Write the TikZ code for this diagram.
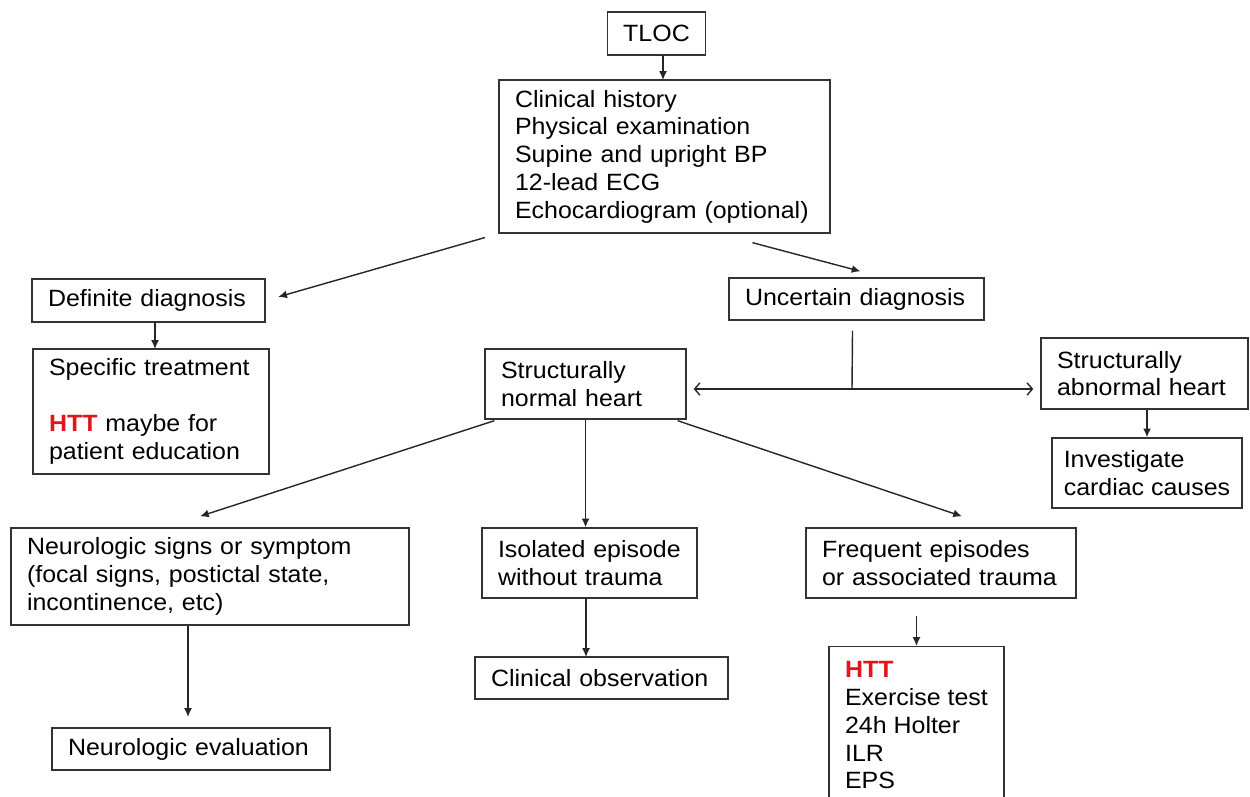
\documentclass[tikz,border=0pt]{standalone}
\usepackage{fontspec}
\setmainfont{Liberation Sans}[FakeStretch=1.06]
\usepackage{tikz}
\usetikzlibrary{calc,positioning,arrows.meta}
\definecolor{httred}{RGB}{230,20,25}
\newcommand{\htt}{\textcolor{httred}{\textbf{HTT}}}

\begin{document}
\begin{tikzpicture}[x=0.02cm,y=-0.02cm]
\tikzstyle{box}=[draw=black!80, line width=0.8pt, rectangle, align=left, inner xsep=0.32cm, font=\fontsize{13.4}{15.8}\selectfont]
\tikzstyle{arr}=[draw=black!85, line width=0.8pt, -{Latex[length=5pt,width=4.5pt]}]
\tikzstyle{dblarr}=[draw=black!85, line width=0.8pt, {Straight Barb[length=3pt,width=7pt]}-{Straight Barb[length=3pt,width=7pt]}]
\clip (0,0) rectangle (1250,796);
% boxes
\node[box, align=center, minimum width=1.94cm, minimum height=0.86cm] (tloc) at (656.5,33.5) {TLOC};
\node[box, text width=5.98cm, minimum height=3.06cm] (clin) at (664.5,156.5) {Clinical history\\Physical examination\\Supine and upright BP\\12-lead ECG\\Echocardiogram (optional)};
\node[box, text width=4.02cm, minimum height=0.86cm] (defdx) at (148.5,300.5) {Definite diagnosis};
\node[box, text width=4.08cm, minimum height=2.5cm] (spec) at (151,411.5) {Specific treatment\\[15.8pt]\htt{} maybe for\\patient education};
\node[box, text width=4.46cm, minimum height=0.84cm] (uncdx) at (856.5,299) {Uncertain diagnosis};
\node[box, text width=3.38cm, minimum height=1.4cm] (normal) at (585.5,384) {Structurally\\normal heart};
\node[box, text width=3.5cm, minimum height=1.42cm] (abnormal) at (1144.5,373.5) {Structurally\\abnormal heart};
\node[box, inner xsep=0.1cm, minimum width=3.8cm, minimum height=1.4cm] (invest) at (1147,473) {Investigate\\cardiac causes};
\node[box, text width=7.32cm, minimum height=1.94cm] (neuro) at (210,576.5) {Neurologic signs or symptom\\(focal signs, postictal state,\\incontinence, etc)};
\node[box, text width=4.92cm, minimum height=0.84cm] (neuroeval) at (191,749) {Neurologic evaluation};
\node[box, text width=3.66cm, minimum height=1.4cm] (iso) at (589.5,563) {Isolated episode\\without trauma};
\node[box, text width=4.42cm, minimum height=0.84cm] (clinobs) at (601.5,678) {Clinical observation};
\node[box, inner xsep=0.1cm, inner ysep=0.3cm, minimum width=3.5cm, text depth=3.5cm, anchor=north] (tests) at (916.5,646) {\htt\\Exercise test\\24h Holter\\ILR\\EPS};
\node[box, text width=4.76cm, minimum height=1.4cm] (freq) at (941,563) {Frequent episodes\\or associated trauma};
% free ends
\coordinate (split) at (852,389);
\coordinate (c1) at ($(clin.south)+(88,9)$);
\coordinate (c2) at ($(uncdx.north)+(4,-6)$);
\coordinate (t1) at (663,55);
\coordinate (t2) at (663,80);
\coordinate (d1) at (155,322);
\coordinate (d2) at (155,349);
\coordinate (n1) at (188,626);
\coordinate (n2) at (188,717);
\coordinate (i1) at (586,598);
\coordinate (i2) at (586,657);
% connectors
\draw[arr] (t1) -- (t2);
\draw[arr, shorten <=0.28cm, shorten >=0.26cm] (clin.south west) -- (defdx.east);
\draw[arr] (c1) -- (c2);
\draw[arr] (d1) -- (d2);
\draw[draw=black!85, line width=0.8pt] ($(uncdx.south)+(-4,10)$) -- (split);
\draw[dblarr, shorten <=4pt, shorten >=4pt] (normal.east |- split) -- (abnormal.west |- split);
\draw[arr] (invest.north |- abnormal.south) -- (invest.north);
\draw[arr] ($(normal.south west)+(10,1)$) -- ($(neuro.north)+(-10,-11)$);
\draw[arr] (normal.south) -- (normal.south |- iso.north);
\draw[arr] ($(normal.south east)+(-9,1)$) -- ($(freq.north)+(21,-11)$);
\draw[arr] (n1) -- (n2);
\draw[arr] (i1) -- (i2);
\draw[arr, shorten <=10pt] (tests.north |- freq.south) -- (tests.north);
\end{tikzpicture}
\end{document}
